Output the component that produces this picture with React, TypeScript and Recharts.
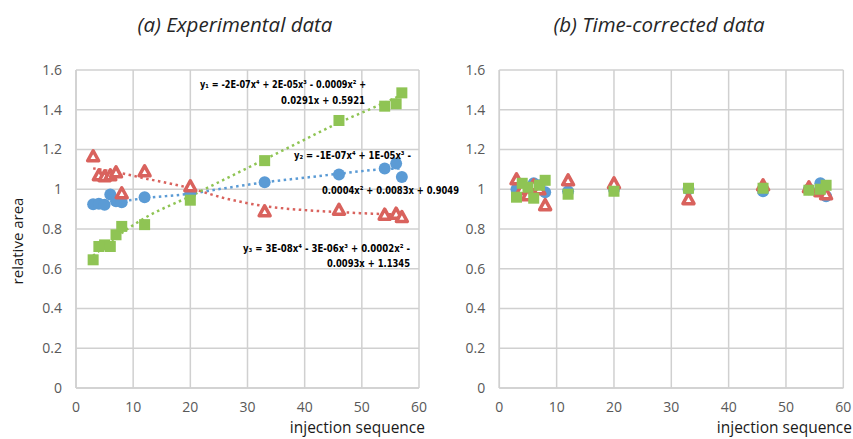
import React from "react";
import { ComposedChart, Scatter, Line, XAxis, YAxis, CartesianGrid } from "recharts";

// ---- data ----
const injections = [3, 4, 5, 6, 7, 8, 12, 20, 33, 46, 54, 56, 57];

const expBlue = [0.925, 0.927, 0.922, 0.973, 0.94, 0.934, 0.96, 0.98, 1.035, 1.074, 1.104, 1.129, 1.062];
const expRed = [1.166, 1.07, 1.065, 1.07, 1.085, 0.98, 1.09, 1.015, 0.889, 0.897, 0.872, 0.877, 0.86];
const expGreen = [0.645, 0.712, 0.72, 0.712, 0.771, 0.813, 0.822, 0.945, 1.144, 1.346, 1.418, 1.43, 1.485];

const corBlue = [1.0, 1.01, 1.0, 1.03, 1.02, 0.985, 0.99, 1.0, 1.0, 0.99, 1.0, 1.03, 0.965];
const corRed = [1.05, 1.0, 0.97, 1.02, 1.0, 0.92, 1.045, 1.03, 0.95, 1.02, 1.01, 0.99, 0.975];
const corGreen = [0.96, 1.03, 1.01, 0.955, 1.02, 1.045, 0.975, 0.99, 1.005, 1.005, 0.995, 1.0, 1.02];

const trendX = [3, 8, 12, 20, 26, 33, 40, 46, 52, 57];
const trendGreen = [0.665, 0.78, 0.855, 0.965, 1.05, 1.15, 1.25, 1.335, 1.41, 1.475];
const trendBlue = [0.93, 0.94, 0.955, 0.978, 1.005, 1.035, 1.058, 1.078, 1.097, 1.105];
const trendRed = [1.105, 1.08, 1.055, 1.005, 0.955, 0.915, 0.895, 0.885, 0.877, 0.872];

const xTicks = [0, 10, 20, 30, 40, 50, 60];
const yTicks = [0, 0.2, 0.4, 0.6, 0.8, 1, 1.2, 1.4, 1.6];

const titles = ["(a) Experimental data", "(b) Time-corrected data"];
const yLabel = "relative area";
const xLabel = "injection sequence";
const eq1 = ["y\u2081 = -2E-07x\u2074 + 2E-05x\u00b3 - 0.0009x\u00b2 +", "0.0291x + 0.5921"];
const eq2 = ["y\u2082 = -1E-07x\u2074 + 1E-05x\u00b3 -", "0.0004x\u00b2 + 0.0083x + 0.9049"];
const eq3 = ["y\u2083 = 3E-08x\u2074 - 3E-06x\u00b3 + 0.0002x\u00b2 -", "0.0093x + 1.1345"];

const BLUE = "#5b9bd5";
const RED = "#d9625d";
const GREEN = "#8fc454";
const GRID = "#d0d0d0";
const TICK = "#595959";
const FONT = "'Open Sans', sans-serif";

const pts = (xs: number[], ys: number[]) => xs.map((x, i) => ({ x, y: ys[i] }));

const Circle = (p: any) => <circle cx={p.cx} cy={p.cy} r={6} fill={BLUE} />;
const Square = (p: any) => <rect x={p.cx - 5.5} y={p.cy - 5.5} width={11} height={11} fill={GREEN} />;
const Tri = (p: any) => (
  <polygon
    points={`${p.cx},${p.cy - 5.5} ${p.cx + 5.5},${p.cy + 4.5} ${p.cx - 5.5},${p.cy + 4.5}`}
    fill="#ffffff"
    stroke={RED}
    strokeWidth={3.5}
    strokeLinejoin="round"
  />
);

const tickStyle = { fill: TICK, fontSize: 14, fontFamily: FONT };

function Panel(props: {
  left: number;
  width: number;
  yAxisWidth: number;
  right: number;
  blue: number[];
  red: number[];
  green: number[];
  trends: boolean;
}) {
  const { left, width, yAxisWidth, right, blue, red, green, trends } = props;
  return (
    <div style={{ position: "absolute", left, top: 0 }}>
      <ComposedChart width={width} height={439} margin={{ top: 70, right, bottom: 0, left: 0 }}>
        <CartesianGrid stroke={GRID} strokeWidth={1.5} />
        <XAxis
          type="number"
          dataKey="x"
          domain={[0, 60]}
          ticks={xTicks}
          height={51}
          tickSize={0}
          tickMargin={14}
          axisLine={{ stroke: GRID, strokeWidth: 1.5 }}
          tickLine={false}
          tick={tickStyle}
          allowDataOverflow
        />
        <YAxis
          type="number"
          dataKey="y"
          domain={[0, 1.6]}
          ticks={yTicks}
          width={yAxisWidth}
          tickSize={0}
          tickMargin={14}
          axisLine={{ stroke: GRID, strokeWidth: 1.5 }}
          tickLine={false}
          tick={tickStyle}
          allowDataOverflow
        />
        {trends && (
          <Line data={pts(trendX, trendBlue)} dataKey="y" type="monotone" stroke={BLUE} strokeWidth={2.5} strokeDasharray="2.5 3.5" dot={false} isAnimationActive={false} />
        )}
        {trends && (
          <Line data={pts(trendX, trendRed)} dataKey="y" type="monotone" stroke={RED} strokeWidth={2.5} strokeDasharray="2.5 3.5" dot={false} isAnimationActive={false} />
        )}
        {trends && (
          <Line data={pts(trendX, trendGreen)} dataKey="y" type="monotone" stroke={GREEN} strokeWidth={2.5} strokeDasharray="2.5 3.5" dot={false} isAnimationActive={false} />
        )}
        <Scatter data={pts(injections, blue)} dataKey="y" shape={Circle} isAnimationActive={false} />
        <Scatter data={pts(injections, red)} dataKey="y" shape={Tri} isAnimationActive={false} />
        <Scatter data={pts(injections, green)} dataKey="y" shape={Square} isAnimationActive={false} />
      </ComposedChart>
    </div>
  );
}

const eqStyle = { fontFamily: "'DejaVu Sans Condensed', 'DejaVu Sans', sans-serif", fontWeight: 700, fontSize: 10.5, fill: "#000" } as const;

export default function App() {
  return (
    <div style={{ position: "absolute", left: 0, top: 0, width: 853, height: 439, background: "#ffffff", overflow: "hidden" }}>
      <Panel left={0} width={440} yAxisWidth={76} right={21} blue={expBlue} red={expRed} green={expGreen} trends />
      <Panel left={426} width={427} yAxisWidth={73.3} right={9.7} blue={corBlue} red={corRed} green={corGreen} trends={false} />
      <svg width={853} height={439} style={{ position: "absolute", left: 0, top: 0, pointerEvents: "none" }}>
        <text x={235} y={32} textAnchor="middle" style={{ fontFamily: FONT, fontStyle: "italic", fontSize: 20.5, fill: "#262626" }}>{titles[0]}</text>
        <text x={659} y={32} textAnchor="middle" style={{ fontFamily: FONT, fontStyle: "italic", fontSize: 20.5, fill: "#262626" }}>{titles[1]}</text>
        <text transform="translate(23,241) rotate(-90)" textAnchor="middle" style={{ fontFamily: FONT, fontSize: 15, fill: "#1a1a1a" }}>{yLabel}</text>
        <text x={425} y={433} textAnchor="end" style={{ fontFamily: FONT, fontSize: 15.5, fill: "#1a1a1a" }}>{xLabel}</text>
        <text x={852} y={433} textAnchor="end" style={{ fontFamily: FONT, fontSize: 15.5, fill: "#1a1a1a" }}>{xLabel}</text>
        <text x={200} y={88} textLength={166} lengthAdjust="spacingAndGlyphs" style={eqStyle}>{eq1[0]}</text>
        <text x={281} y={104} textLength={84} lengthAdjust="spacingAndGlyphs" style={eqStyle}>{eq1[1]}</text>
        <text x={294} y={159} textLength={117} lengthAdjust="spacingAndGlyphs" style={eqStyle}>{eq2[0]}</text>
        <text x={322} y={194} textLength={137} lengthAdjust="spacingAndGlyphs" style={eqStyle}>{eq2[1]}</text>
        <text x={243} y={252} textLength={167} lengthAdjust="spacingAndGlyphs" style={eqStyle}>{eq3[0]}</text>
        <text x={327} y={267} textLength={83} lengthAdjust="spacingAndGlyphs" style={eqStyle}>{eq3[1]}</text>
      </svg>
    </div>
  );
}
